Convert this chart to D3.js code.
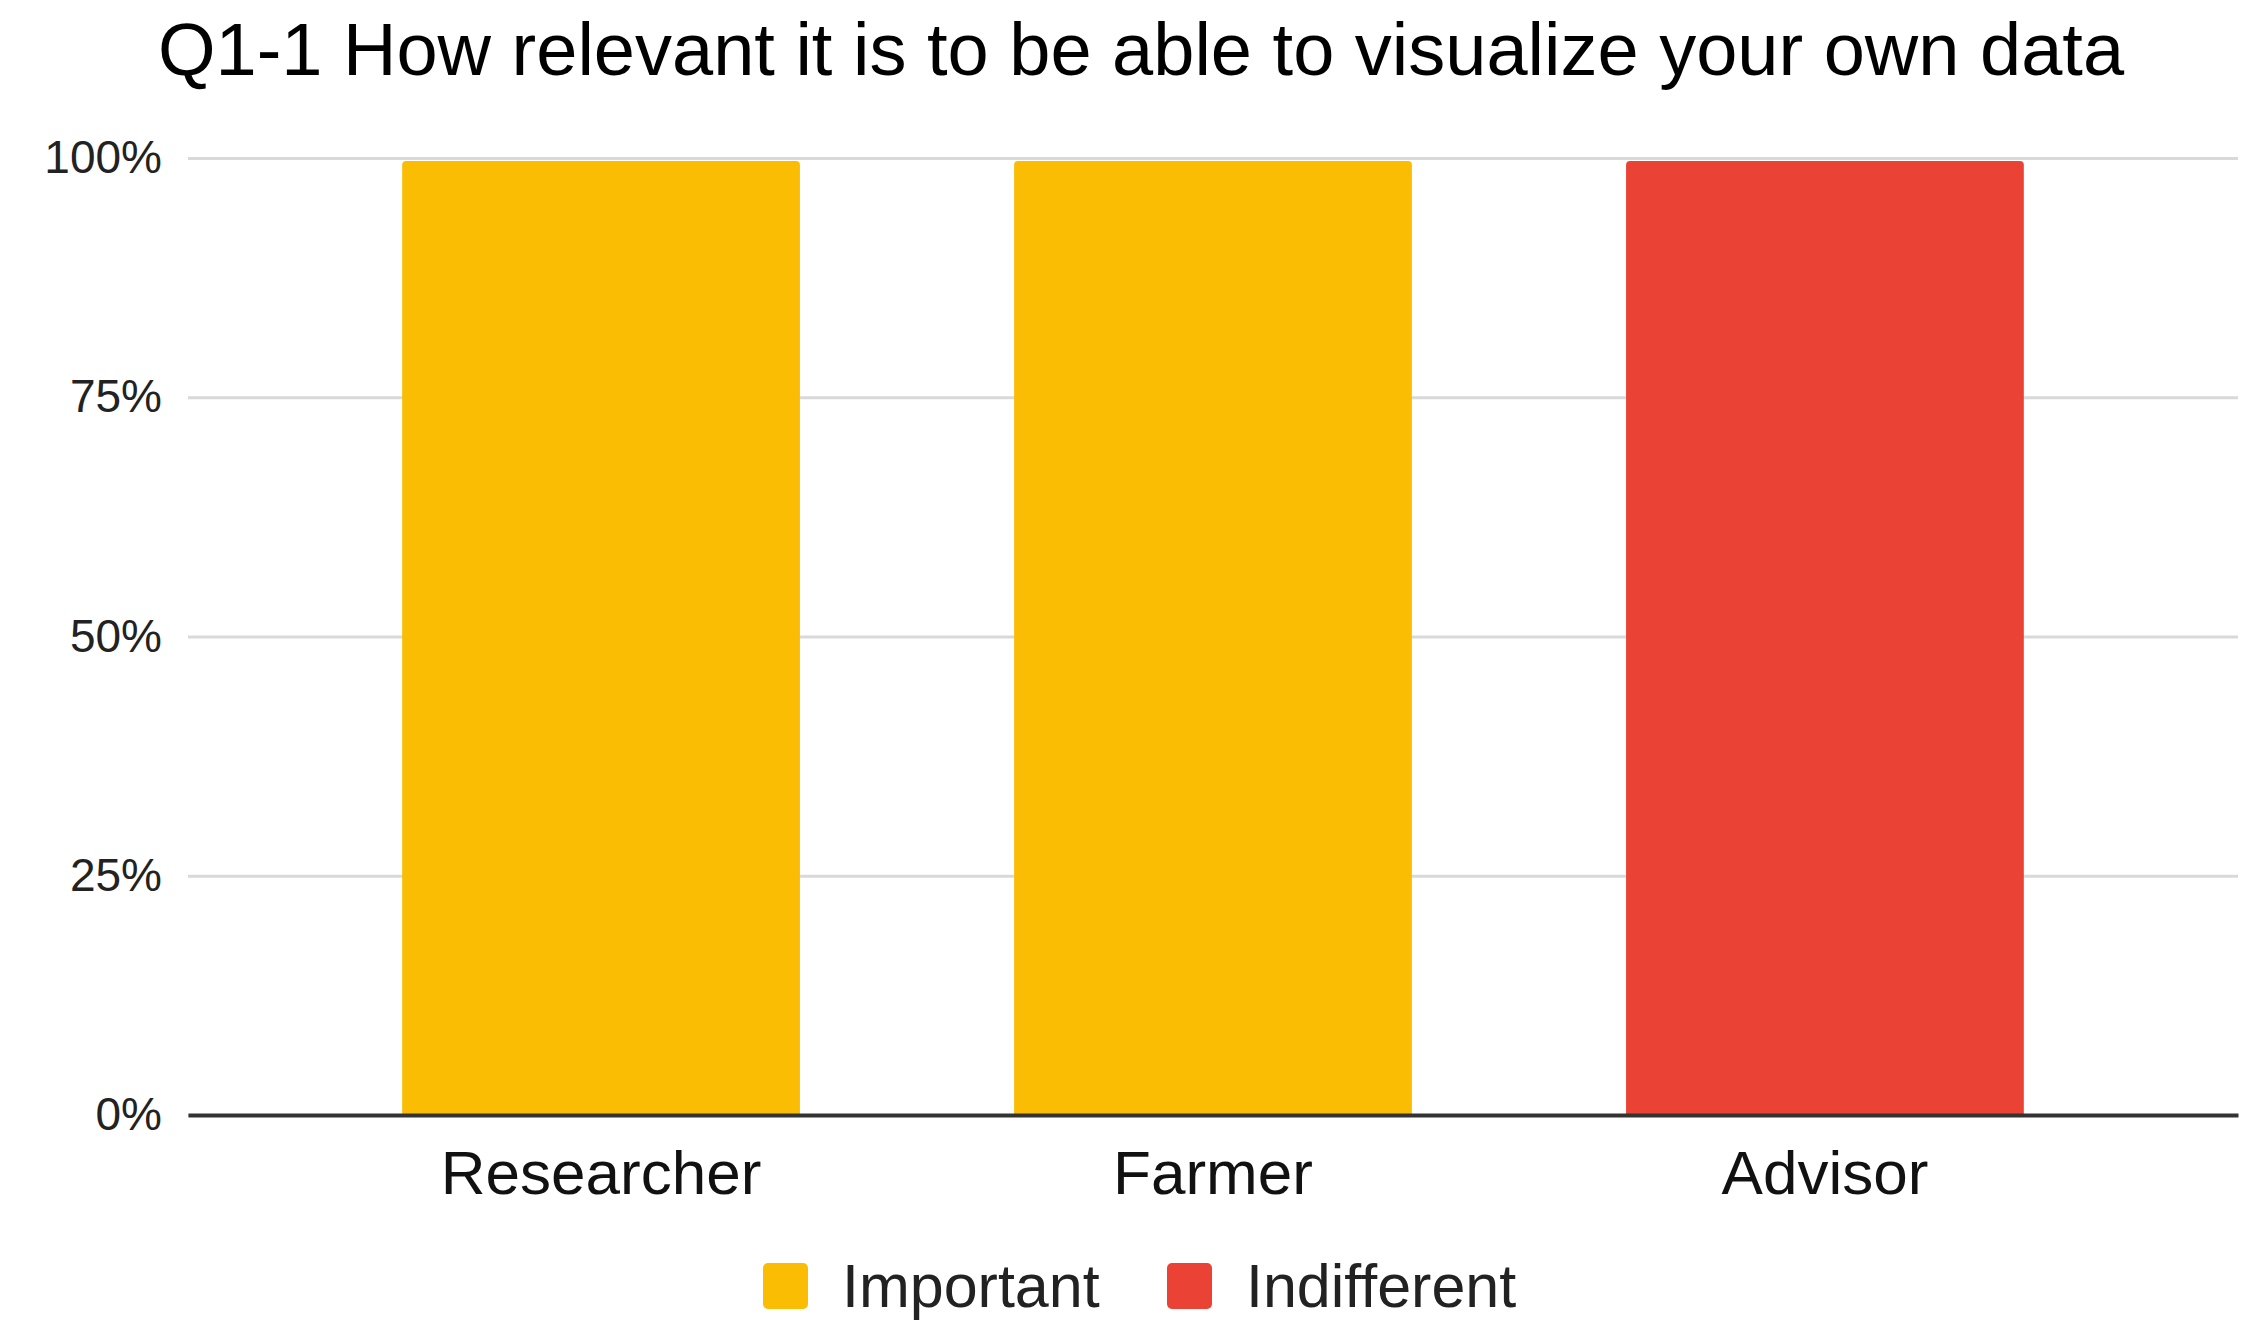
<!DOCTYPE html>
<html>
<head>
<meta charset="utf-8">
<script src="https://cdn.jsdelivr.net/npm/d3@7"></script>
<style>
  body { margin: 0; background: #fff; }
  text { font-family: "Liberation Sans", Arial, sans-serif; }
</style>
</head>
<body>
<div class="chart"></div>
<script>
// Data
const categories = ['Researcher', 'Farmer', 'Advisor'];
const seriesNames = ['Important', 'Indifferent'];
const important = [100, 100, 0];
const indifferent = [0, 0, 100];
const yTicks = [0, 25, 50, 75, 100];
const colors = ['#fbbc04', '#ea4335'];

const rows = categories.map((c, i) => ({
    category: c,
    Important: important[i],
    Indifferent: indifferent[i]
}));

const svgWidth = 2264;
const svgHeight = 1335;
const margin = { top: 158, right: 26, bottom: 220, left: 188 };
const width = svgWidth - margin.left - margin.right;
const height = svgHeight - margin.top - margin.bottom;

const svg = d3.select('.chart')
    .append('svg')
    .attr('width', svgWidth)
    .attr('height', svgHeight);

// Title
svg.append('text')
    .attr('x', 1141)
    .attr('y', 75)
    .attr('text-anchor', 'middle')
    .style('font-size', '74px')
    .style('fill', '#000')
    .text('Q1-1 How relevant it is to be able to visualize your own data');

const g = svg.append('g')
    .attr('transform', 'translate(' + margin.left + ',' + margin.top + ')');

// Scales
const xScale = d3.scaleBand()
    .domain(categories)
    .range([0, width])
    .paddingInner(0.35)
    .paddingOuter(0.35);

const yScale = d3.scaleLinear()
    .domain([0, 100])
    .range([height, 0]);

// Grid + y axis
const yAxis = d3.axisLeft(yScale)
    .tickValues(yTicks)
    .tickFormat(d => d + '%')
    .tickSizeInner(-width)
    .tickSizeOuter(0)
    .tickPadding(26);

const yAxisDraw = g.append('g').attr('class', 'y axis');
yAxis(yAxisDraw);
yAxisDraw.select('.domain').remove();
yAxisDraw.selectAll('.tick line')
    .attr('stroke', '#d9d9d9')
    .attr('stroke-width', 3);
yAxisDraw.selectAll('.tick text')
    .style('font-size', '46px')
    .style('fill', '#222');

// Stacked bars
const stack = d3.stack().keys(seriesNames);
const stacked = stack(rows);

g.selectAll('.series')
    .data(stacked)
    .enter()
    .append('g')
    .attr('class', 'series')
    .attr('fill', (d, i) => colors[i])
    .selectAll('path')
    .data(d => d.filter(p => p[1] - p[0] > 0))
    .enter()
    .append('path')
    .attr('d', d => {
        const x0 = xScale(d.data.category);
        const w = xScale.bandwidth();
        const yTop = yScale(d[1]) + 3;
        const yBot = yScale(d[0]);
        const r = 4;
        return 'M' + x0 + ',' + yBot +
            'V' + (yTop + r) +
            'Q' + x0 + ',' + yTop + ' ' + (x0 + r) + ',' + yTop +
            'H' + (x0 + w - r) +
            'Q' + (x0 + w) + ',' + yTop + ' ' + (x0 + w) + ',' + (yTop + r) +
            'V' + yBot + 'Z';
    });

// x axis
const xAxis = d3.axisBottom(xScale)
    .tickSize(0)
    .tickPadding(35);

const xAxisDraw = g.append('g')
    .attr('class', 'x axis')
    .attr('transform', 'translate(0,' + height + ')');
xAxis(xAxisDraw);
xAxisDraw.select('.domain')
    .attr('stroke', '#333')
    .attr('stroke-width', 4);
xAxisDraw.selectAll('.tick text')
    .style('font-size', '62px')
    .style('fill', '#111');

// Legend
const legendItems = [
    { name: seriesNames[0], color: colors[0], x: 763 },
    { name: seriesNames[1], color: colors[1], x: 1167 }
];
const legend = svg.append('g').attr('class', 'legend');
legend.selectAll('rect')
    .data(legendItems)
    .enter()
    .append('rect')
    .attr('x', d => d.x)
    .attr('y', 1263)
    .attr('width', 45)
    .attr('height', 46)
    .attr('rx', 5)
    .attr('fill', d => d.color);
legend.selectAll('text')
    .data(legendItems)
    .enter()
    .append('text')
    .attr('x', d => d.x + 79)
    .attr('y', 1307)
    .style('font-size', '61px')
    .style('fill', '#222')
    .text(d => d.name);
</script>
</body>
</html>
